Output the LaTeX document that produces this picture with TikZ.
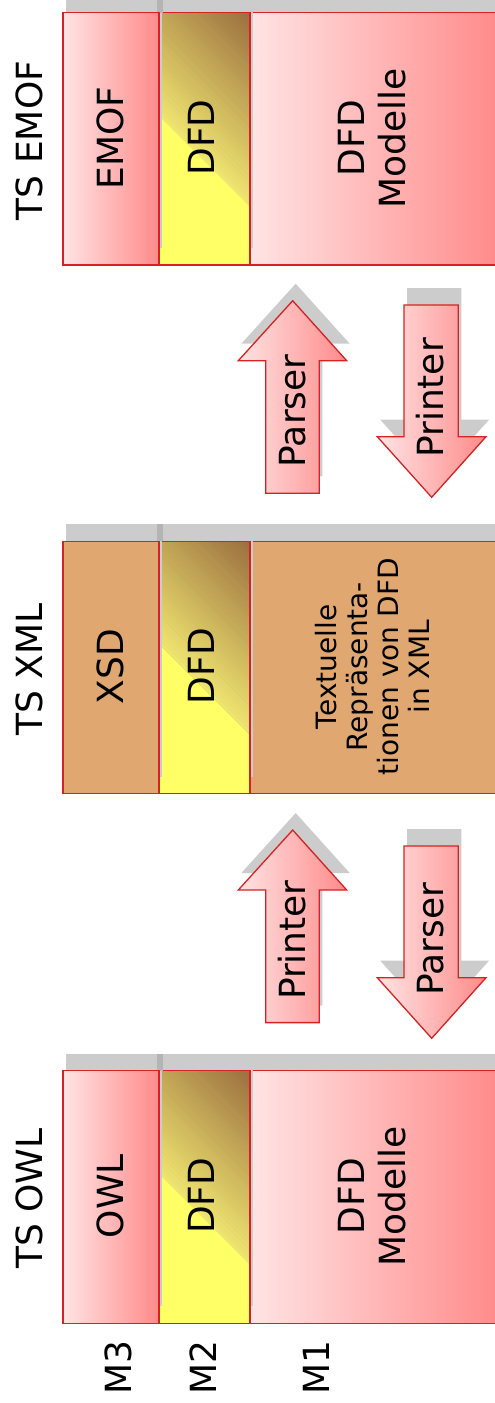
\documentclass[tikz,border=0pt]{standalone}
\usepackage{fontspec}
\setmainfont{DejaVu Sans}
\usetikzlibrary{calc}

\definecolor{pinkL}{RGB}{255,228,228}
\definecolor{pinkR}{RGB}{255,138,138}
\definecolor{frameRed}{RGB}{214,34,34}
\definecolor{sandFill}{RGB}{224,168,112}
\definecolor{dfdY}{RGB}{255,255,102}
\definecolor{dfdM}{RGB}{238,228,112}
\definecolor{dfdB}{RGB}{156,112,64}
\definecolor{shadowGray}{RGB}{204,204,204}
\definecolor{shadowDark}{RGB}{180,180,180}

% one row of the picture, top edge at #1
\newcommand{\tsrow}[7]{%
  \begin{scope}[shift={(0,#1)}]
    \fill[shadowGray] (253,-17) rectangle (500,235.5);
    \draw[colbox,#3] (250,0) rectangle (500,252.5);
    \fill[shadowGray] (162,-17) rectangle (253,235.5);
    % DFD column: yellow, turning brown towards the upper right corner
    \begin{scope}
      \clip (159,0) rectangle (250,252.5);
      \fill[dfdB] (159,0) rectangle (250,252.5);
      \foreach \k in {0,...,39}{
        \pgfmathsetmacro{\ua}{-22.5+\k*4.85}
        \pgfmathsetmacro{\ub}{\ua+5.5}
        \pgfmathtruncatemacro{\pct}{100-\k*100/39}
        \fill[dfdM!\pct!dfdB] ({4.5+\ua/2},{-74-\ua/2}) -- ({404.5+\ua/2},{326-\ua/2})
          -- ({404.5+\ub/2},{326-\ub/2}) -- ({4.5+\ub/2},{-74-\ub/2}) -- cycle;
      }
      \fill[dfdY] (4.5-11.25,-74+11.25) -- (404.5-11.25,326+11.25) -- (404.5-200,326+200) -- (4.5-200,-74+200) -- cycle;
    \end{scope}
    \draw[colbox] (159,0) rectangle (250,252.5);
    \fill[shadowGray] (66,-17) rectangle (162,235.5);
    \fill[shadowDark] (157,-17) rectangle (162.5,0);
    \draw[colbox,#3] (63,0) rectangle (159,252.5);
    \node[txt,rotate=90] (#2-ts) at (29,128) {TS #4};
    \node[txt,rotate=90] (#2-meta) at (110.5,125.5) {#5};
    \node[txt,rotate=90] (#2-dfd) at (201,125) {DFD};
    \node[#7,rotate=90] (#2-model) at (372.5,125.5) {#6};
  \end{scope}}

\newcommand{\arrowup}[3]{%
  \begin{scope}[shift={(0,#1)}]
    \fill[shadowGray,shift={(3,-17)}] (292.7,300.7) -- (346.7,360.7) -- (319.3,360.7) -- (319.3,493.3) -- (265.7,493.3) -- (265.7,360.7) -- (238.3,360.7) -- cycle;
    \draw[arrowbody] (292.7,300.7) -- (346.7,360.7) -- (319.3,360.7) -- (319.3,493.3) -- (265.7,493.3) -- (265.7,360.7) -- (238.3,360.7) -- cycle;
    \node[txt,rotate=90] (#2) at (292.5,410.8) {#3};
  \end{scope}}

\newcommand{\arrowdown}[3]{%
  \begin{scope}[shift={(0,#1)}]
    \fill[shadowGray,shift={(3,-17)}] (404,305) -- (458.3,305) -- (458.3,436.7) -- (486,436.7) -- (431.7,497.3) -- (377.3,436.7) -- (404,436.7) -- cycle;
    \draw[arrowbody] (404,305) -- (458.3,305) -- (458.3,436.7) -- (486,436.7) -- (431.7,497.3) -- (377.3,436.7) -- (404,436.7) -- cycle;
    \node[txt,rotate=90] (#2) at (430.5,398) {#3};
  \end{scope}}

\begin{document}
\begin{tikzpicture}[x=1pt,y=-1pt,
    txt/.style={font=\fontsize{36}{41}\selectfont,align=center,inner sep=0pt},
    smalltxt/.style={font=\fontsize{28}{31}\selectfont,align=center,inner sep=0pt},
    colbox/.style={draw=frameRed,line width=1.3pt},
    pinkcol/.style={left color=pinkL,right color=pinkR},
    sandcol/.style={fill=sandFill},
    arrowbody/.style={draw=frameRed,line width=1.3pt,line join=miter,left color=pinkL,right color=pinkR}]
\useasboundingbox (0,0) rectangle (495,1403);
\clip (0,0) rectangle (495,1403);

\tsrow{12.5}{emof}{pinkcol}{EMOF}{EMOF}{DFD\\Modelle}{txt}
\tsrow{541.3}{xml}{sandcol}{XML}{XSD}{Textuelle\\Repräsenta-\\tionen von DFD\\in XML}{smalltxt}
\tsrow{1070.7}{owl}{pinkcol}{OWL}{OWL}{DFD\\Modelle}{txt}

\arrowup{0}{parserUp}{Parser}
\arrowdown{0}{printerDown}{Printer}
\arrowup{529.3}{printerUp}{Printer}
\arrowdown{541}{parserDown}{Parser}

\node[txt,rotate=90,anchor=west] (m3) at (118.3,1395) {M3};
\node[txt,rotate=90,anchor=west] (m2) at (203.3,1395) {M2};
\node[txt,rotate=90,anchor=west] (m1) at (316.7,1395) {M1};
\end{tikzpicture}
\end{document}
